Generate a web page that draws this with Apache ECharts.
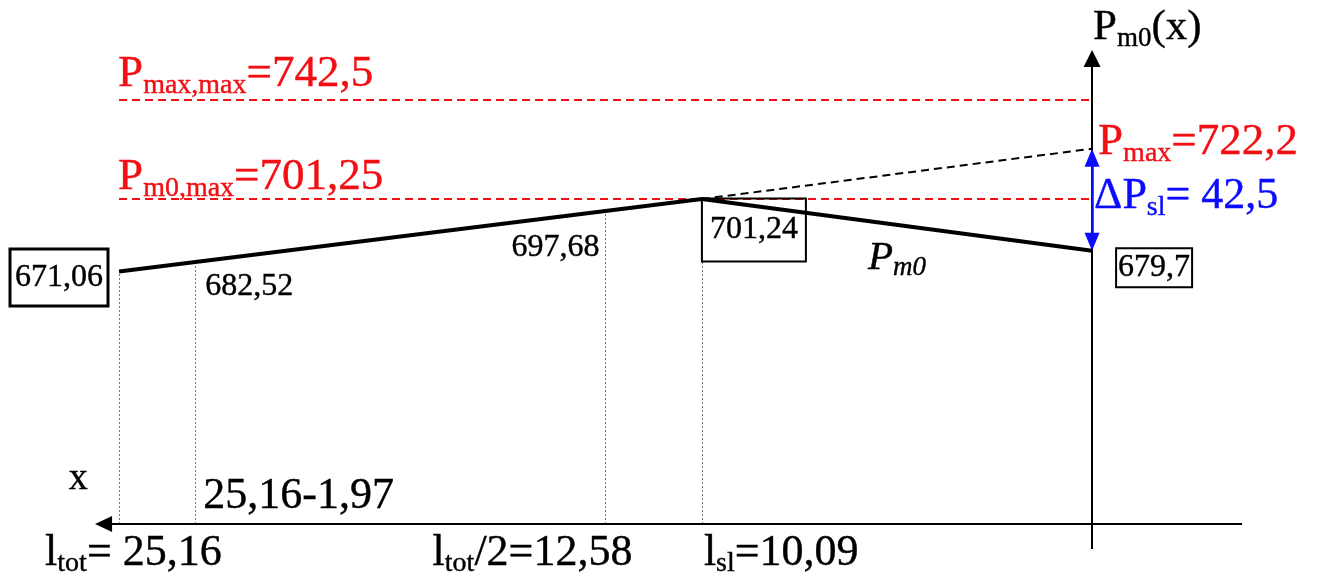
<!DOCTYPE html>
<html>
<head>
<meta charset="utf-8">
<script src="https://cdn.jsdelivr.net/npm/echarts@6/dist/echarts.min.js"></script>
<style>html,body{margin:0;padding:0;background:#fff;}#c{width:1318px;height:581px;}</style>
</head>
<body>
<div id="c"></div>
<script>
// ---------------- data ----------------
const xPoints = [25.16, 10.09, 0];            // l_tot, l_sl, 0
const pm0Values = [671.06, 701.24, 679.7];    // P_m0 at those x
const pMax = 722.2;
const pMaxMax = 742.5;
const pM0Max = 701.25;
const deltaPsl = 42.5;
const lTot = 25.16;
const lTotHalf = 12.58;
const lSl = 10.09;
const offLen = 1.97;                           // 25,16-1,97
const midX = [lTot - offLen, lTotHalf];
const midValues = [682.52, 697.68];
const guideX = [lTot, lTot - offLen, lTotHalf, lSl];

// ---------------- layout ----------------
const FONT = "'Liberation Serif','Times New Roman',serif";
const X_MIN = -5, X_MAX = 27, Y_MIN = 550, Y_MAX = 770;
const GRID = {left: 47.9, right: 32.6, top: 34, bottom: 19};
const pxY = (581 - GRID.top - GRID.bottom) / (Y_MAX - Y_MIN);
const AXIS_Y = 565.83;          // value where the x axis is drawn
const XAXIS_RIGHT = -3.88, XAXIS_LEFT = 25.56;
const YAXIS_BOTTOM = 555.42, YAXIS_TOP = 759.8;
const RED = '#f20f14', BLUE = '#0b0bff', BLACK = '#000';
const TB = 0.4; // stroke to darken glyphs

const fmt = v => String(v).replace('.', ',');
function lineAt(x) {
  for (let i = 0; i < xPoints.length - 1; i++) {
    const a = xPoints[i], b = xPoints[i + 1];
    if ((x <= a && x >= b) || (x >= a && x <= b)) {
      const t = (x - a) / (b - a);
      return pm0Values[i] + t * (pm0Values[i + 1] - pm0Values[i]);
    }
  }
  return pm0Values[0];
}
function rich(color, fm, fs, italic) {
  const Lm = fm + 6;
  const subCenter = Lm / 2 + 0.3375 * fm + 0.22 * fm - 0.3375 * fs;
  const Ls = 2 * (Lm - subCenter);
  const st = italic ? 'italic' : 'normal';
  const common = {fontFamily: FONT, color, fontStyle: st, textBorderColor: color, textBorderWidth: TB};
  return {
    m: Object.assign({fontSize: fm, lineHeight: Lm}, common),
    s: Object.assign({fontSize: fs, lineHeight: Ls, verticalAlign: 'bottom'}, common)
  };
}
function lab(x, y, text, opts) {
  return {
    value: [x, y],
    label: Object.assign({show: true, position: 'right', distance: 0, formatter: text, opacity: 1}, opts)
  };
}
const plain = (fs) => ({fontFamily: FONT, fontSize: fs, color: BLACK, textBorderColor: BLACK, textBorderWidth: TB});
const boxStyle = (bw, pad) => Object.assign(plain(32), {
  lineHeight: 34, borderColor: BLACK, borderWidth: bw, padding: pad
});

const labels = [
  lab(lTot, pMaxMax, `{m|P}{s|max,max}{m|=${fmt(pMaxMax)}}`, {offset: [-1, -26], rich: rich(RED, 45, 28)}),
  lab(lTot, pM0Max, `{m|P}{s|m0,max}{m|=${fmt(pM0Max)}}`, {offset: [-1, -22], rich: rich(RED, 45, 28)}),
  lab(0, pMax, `{m|P}{s|max}{m|=${fmt(pMax)}}`, {offset: [6, -7], rich: rich(RED, 45, 28)}),
  lab(0, pMax - deltaPsl / 2, `{m|ΔP}{s|sl}{m|= ${fmt(deltaPsl)}}`, {offset: [2, -3], rich: rich(BLUE, 44, 28)}),
  lab(0, YAXIS_TOP, `{m|P}{s|m0}{m|(x)}`, {offset: [1, -31], rich: rich(BLACK, 43, 27)}),
  lab(xPoints[0], pm0Values[0], fmt(pm0Values[0]), Object.assign({position: 'left', offset: [-11, 6]}, boxStyle(3, [11, 5, 12, 5]))),
  lab(xPoints[1], pm0Values[1], fmt(pm0Values[1]), Object.assign({offset: [0, 31]}, boxStyle(2, [14, 8, 15, 8]))),
  lab(xPoints[2], pm0Values[2], fmt(pm0Values[2]), Object.assign({offset: [24, 17]}, boxStyle(2, [2, 2, 3, 2]))),
  lab(midX[0], lineAt(midX[0]), fmt(midValues[0]), Object.assign({offset: [10, 25]}, plain(32))),
  lab(midX[1], lineAt(midX[1]), fmt(midValues[1]), Object.assign({position: 'left', offset: [-6, 37]}, plain(32))),
  lab((xPoints[1] + xPoints[2]) / 2, (pm0Values[1] + pm0Values[2]) / 2, `{m|P}{s|m0}`, {position: 'inside', offset: [0, 33], rich: rich(BLACK, 41, 27, true)}),
  lab(XAXIS_LEFT, AXIS_Y, 'x', Object.assign({offset: [-35, -45]}, plain(38))),
  lab(lTot - offLen, AXIS_Y, `${fmt(lTot)}-${fmt(offLen)}`, Object.assign({offset: [8, -28]}, plain(44))),
  lab(lTot, AXIS_Y, `{m|l}{s|tot}{m|= ${fmt(lTot)}}`, {offset: [-74, 29], rich: rich(BLACK, 44, 28)}),
  lab(lTotHalf, AXIS_Y, `{m|l}{s|tot}{m|/2=${fmt(lTotHalf)}}`, {offset: [-173, 29], rich: rich(BLACK, 44, 28)}),
  lab(lSl, AXIS_Y, `{m|l}{s|sl}{m|=${fmt(lSl)}}`, {offset: [2, 29], rich: rich(BLACK, 44, 28)})
];

const arrowHalf = 9;
const chart = echarts.init(document.getElementById('c'), null, {renderer: 'canvas'});
chart.setOption({
  animation: false,
  backgroundColor: '#fff',
  grid: GRID,
  xAxis: {type: 'value', inverse: true, min: X_MIN, max: X_MAX, show: false},
  yAxis: {type: 'value', min: Y_MIN, max: Y_MAX, show: false},
  series: [
    { // guides
      type: 'line', data: [], z: 1, silent: true,
      markLine: {
        silent: true, symbol: 'none', label: {show: false},
        lineStyle: {color: '#777', width: 1, type: [2, 2]},
        data: guideX.map(x => [{coord: [x, AXIS_Y]}, {coord: [x, lineAt(x)]}])
      }
    },
    { // red dashed
      type: 'line', data: [], z: 2, silent: true,
      markLine: {
        silent: true, symbol: 'none', label: {show: false},
        lineStyle: {color: RED, width: 2, type: [8, 5]},
        data: [pMaxMax, pM0Max].map(v => [{coord: [lTot, v]}, {coord: [0, v]}])
      }
    },
    { // dashed extension
      type: 'line', data: [[xPoints[1], pm0Values[1]], [0, pMax]], symbol: 'none', z: 3,
      lineStyle: {color: BLACK, width: 2, type: [8, 5]}
    },
    { // main line
      type: 'line', data: xPoints.map((x, i) => [x, pm0Values[i]]), symbol: 'none', z: 5,
      lineStyle: {color: BLACK, width: 4}
    },
    { // axes
      type: 'line', data: [], z: 6, silent: true,
      markLine: {
        silent: true, label: {show: false}, symbol: 'none',
        data: [
          [{coord: [XAXIS_RIGHT, AXIS_Y], symbol: 'none'},
           {coord: [XAXIS_LEFT, AXIS_Y], symbol: 'triangle', symbolSize: [16, 17]}],
          [{coord: [0, YAXIS_BOTTOM], symbol: 'none'},
           {coord: [0, YAXIS_TOP], symbol: 'triangle', symbolSize: [17, 17]}]
        ],
        lineStyle: {color: BLACK, width: 2, type: 'solid'}
      }
    },
    { // blue double arrow
      type: 'line', data: [], z: 7, silent: true,
      markLine: {
        silent: true, label: {show: false},
        data: [[{coord: [0, pMax - arrowHalf / pxY], symbol: 'triangle', symbolSize: [15, 18]},
                {coord: [0, pm0Values[2] + arrowHalf / pxY], symbol: 'triangle', symbolSize: [15, 18]}]],
        lineStyle: {color: BLUE, width: 2.5, type: 'solid'}
      }
    },
    { // labels
      type: 'scatter', data: labels, symbolSize: 0.1, z: 10, silent: true,
      itemStyle: {color: 'rgba(0,0,0,0)'}
    }
  ]
});
</script>
</body>
</html>
